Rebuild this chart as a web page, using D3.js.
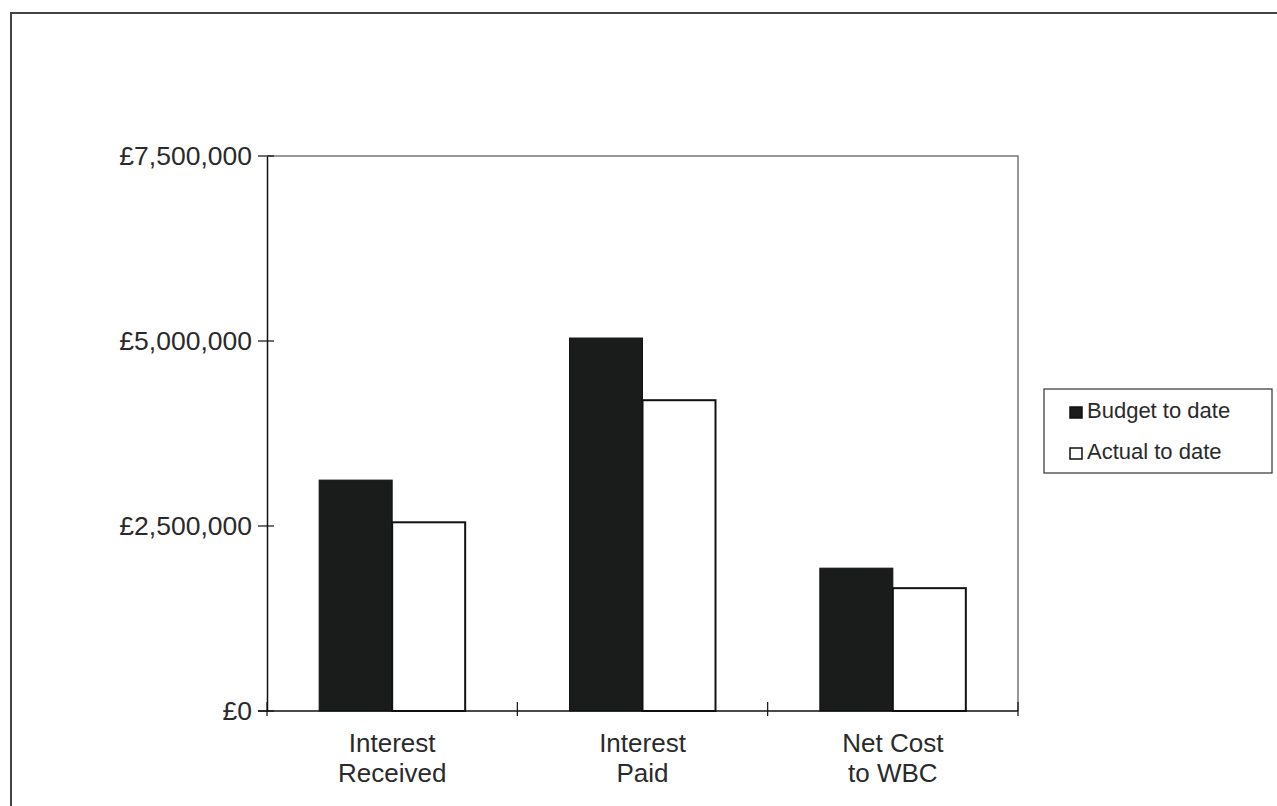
<!DOCTYPE html>
<html><head><meta charset="utf-8">
<script src="https://cdn.jsdelivr.net/npm/d3@7"></script>
<style>body{margin:0;background:#fff}svg{display:block}</style>
</head><body>
<script>
const categories = [["Interest","Received"],["Interest","Paid"],["Net Cost","to WBC"]];
const seriesNames = ["Budget to date","Actual to date"];
const budget = [3120000, 5040000, 1930000];
const actual = [2550000, 4200000, 1660000];
const yTicks = [0, 2500000, 5000000, 7500000];

const W=1277,H=806;
const svg=d3.select("body").append("svg").attr("width",W).attr("height",H);
const font="'Liberation Sans', Arial, sans-serif";
// outer border
svg.append("path").attr("d",`M11,${H} L11,13 L${W},13`).attr("fill","none").attr("stroke","#444").attr("stroke-width",2);

const m={l:267,r:1018,t:156,b:711};
const x0=d3.scaleBand().domain(d3.range(3)).range([m.l,m.r]).paddingInner(0).paddingOuter(0);
const x1=d3.scaleBand().domain([0,1]).range([0,146]);
const y=d3.scaleLinear().domain([0,7500000]).range([m.b,m.t]);

// plot border (top/right)
svg.append("path").attr("d",`M${m.l},${m.t} L${m.r},${m.t} L${m.r},${m.b}`).attr("fill","none").attr("stroke","#777").attr("stroke-width",1.5);

const data=[budget,actual];
const fills=["#1a1c1b","#ffffff"];
categories.forEach((c,i)=>{
  const cx=x0(i)+x0.bandwidth()/2-73;
  data.forEach((s,j)=>{
    svg.append("rect").attr("x",cx+x1(j)).attr("y",y(s[i])).attr("width",x1.bandwidth()).attr("height",y(0)-y(s[i]))
      .attr("fill",fills[j]).attr("stroke","#111").attr("stroke-width",j===1?2:1);
  });
});

// y axis
const ya=svg.append("g").attr("transform",`translate(${m.l},0)`)
  .call(d3.axisLeft(y).tickValues(yTicks).tickSize(0).tickPadding(15).tickFormat(d=>"£"+d3.format(",")(d)));
ya.select(".domain").attr("stroke","#111").attr("stroke-width",1.5);
ya.selectAll("text").attr("font-family",font).attr("font-size",26.5).attr("fill","#2a2a2a");
yTicks.forEach(t=>svg.append("line").attr("x1",m.l-9).attr("x2",m.l+7).attr("y1",y(t)).attr("y2",y(t)).attr("stroke","#111").attr("stroke-width",1.2));

// x axis
svg.append("line").attr("x1",m.l-9).attr("x2",m.r).attr("y1",m.b).attr("y2",m.b).attr("stroke","#111").attr("stroke-width",1.5);
d3.range(4).forEach(i=>{
  const xx=m.l+i*x0.bandwidth();
  svg.append("line").attr("x1",xx).attr("x2",xx).attr("y1",m.b-9).attr("y2",m.b+5).attr("stroke","#111").attr("stroke-width",1.2);
});
categories.forEach((c,i)=>{
  const t=svg.append("text").attr("x",x0(i)+x0.bandwidth()/2).attr("y",752).attr("text-anchor","middle")
    .attr("font-family",font).attr("font-size",26).attr("fill","#2a2a2a");
  c.forEach((line,k)=>t.append("tspan").attr("x",x0(i)+x0.bandwidth()/2).attr("dy",k?30:0).text(line));
});

// legend
const lg=svg.append("g");
lg.append("rect").attr("x",1044).attr("y",389).attr("width",228).attr("height",84).attr("fill","#fff").attr("stroke","#333").attr("stroke-width",1.2);
seriesNames.forEach((n,j)=>{
  const yy=412+j*41;
  lg.append("rect").attr("x",1070).attr("y",yy-5).attr("width",12).attr("height",11).attr("fill",fills[j]).attr("stroke","#111").attr("stroke-width",1.5);
  lg.append("text").attr("x",1087).attr("y",yy+6).attr("font-family",font).attr("font-size",22).attr("fill","#2a2a2a").text(n);
});
</script>
</body></html>
